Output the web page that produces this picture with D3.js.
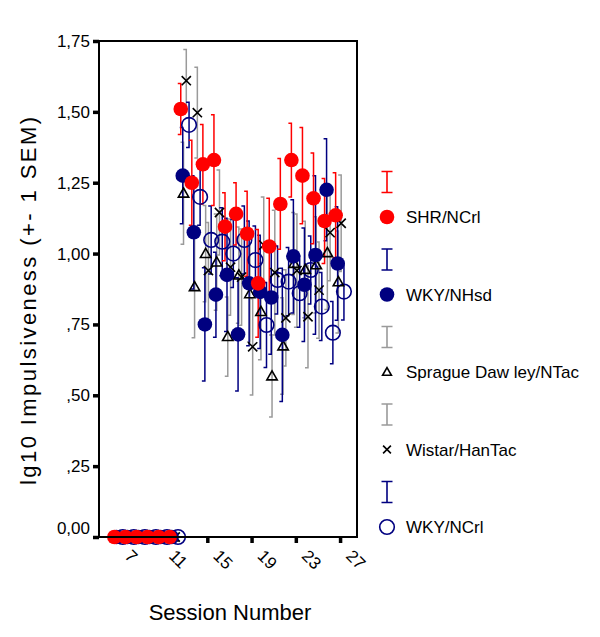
<!DOCTYPE html>
<html>
<head>
<meta charset="utf-8">
<script src="https://cdn.jsdelivr.net/npm/d3@7/dist/d3.min.js"></script>
<style>
  body { margin: 0; background: #ffffff; }
  text { font-family: "Liberation Sans", Arial, sans-serif; }
</style>
</head>
<body>
<svg id="chart" width="600" height="637"></svg>
<script>
// ---------------- DATA ----------------
const sessions = [6,7,8,9,10,11,12,13,14,15,16,17,18,19,20,21,22,23,24,25,26];
const seriesNames = ["SHR/NCrl", "WKY/NHsd", "Sprague Daw ley/NTac", "Wistar/HanTac", "WKY/NCrl"];

const shrMean = [0,0,0,0,0,0, 1.51,1.25,1.315,1.33,1.095,1.14,1.07,0.895,1.025,1.175,1.33,1.275,1.195,1.115,1.135];
const shrSem  = [0,0,0,0,0,0, 0.09,0.15,0.14,0.16,0.12,0.11,0.15,0.19,0.17,0.16,0.13,0.17,0.16,0.15,0.15];

const wkyHsdMean = [0,0,0,0,0,0, 1.275,1.075,0.75,0.855,0.925,0.715,0.895,0.865,0.845,0.713,0.99,0.89,0.995,1.225,0.965];
const wkyHsdSem  = [0,0,0,0,0,0, 0.17,0.2,0.2,0.15,0.2,0.2,0.22,0.2,0.2,0.235,0.2,0.2,0.28,0.18,0.2];

const sdMean = [0,0,0,0,0,0, 1.213,0.883,1.0,0.97,0.707,0.924,0.858,0.795,0.568,0.674,0.965,0.944,0.96,1.003,0.9];
const sdSem  = [0,0,0,0,0,0, 0.18,0.18,0.17,0.17,0.14,0.17,0.17,0.17,0.145,0.17,0.18,0.17,0.17,0.2,0.18];

const wistarMean = [0,0,0,0,0,0, 1.61,1.497,0.94,1.145,0.952,0.917,0.671,1.03,0.933,0.773,0.94,0.777,0.871,1.074,1.107];
const wistarSem  = [0,0,0,0,0,0, 0.11,0.16,0.17,0.15,0.17,0.17,0.17,0.17,0.22,0.17,0.2,0.18,0.17,0.17,0.17];

const wkyCrlMean = [0,0,0,0,0,0, 1.454,1.2,1.048,1.042,1.0,1.048,0.977,0.748,0.907,0.901,0.86,0.942,0.813,0.721,0.866];
const wkyCrlSem  = [0,0,0,0,0,0, 0.08,0.1,0.12,0.12,0.12,0.12,0.12,0.15,0.12,0.12,0.12,0.12,0.12,0.11,0.1];

const yTicks = [0, 0.25, 0.5, 0.75, 1.0, 1.25, 1.5, 1.75];
const yTickLabels = ["0,00", ",25", ",50", ",75", "1,00", "1,25", "1,50", "1,75"];
const xTicks = [7, 11, 15, 19, 23, 27];
const xTitle = "Session Number";
const yTitle = "lg10 Impulsiveness (+- 1 SEM)";

// ---------------- STYLE ----------------
const styles = [
  { color: "#ff0000", err: "#ff0000", shape: "dot",  dodge: 0.6 },
  { color: "#000080", err: "#000080", shape: "dot",  dodge: 0.78 },
  { color: "#000000", err: "#9a9a9a", shape: "tri",  dodge: 0.85 },
  { color: "#000000", err: "#9a9a9a", shape: "x",    dodge: 1.1 },
  { color: "#000080", err: "#000080", shape: "ring", dodge: 1.35 }
];
const means = [shrMean, wkyHsdMean, sdMean, wistarMean, wkyCrlMean];
const sems  = [shrSem, wkyHsdSem, sdSem, wistarSem, wkyCrlSem];

const series = seriesNames.map((name, k) => ({
  name, style: styles[k],
  points: sessions.map((s, i) => ({ s, m: means[k][i], e: sems[k][i] }))
}));

// ---------------- SCALES ----------------
const svg = d3.select("#chart");
const x = d3.scaleLinear().domain([5.21, 28.53]).range([99, 357]);
const y = d3.scaleLinear().domain([0, 1.75]).range([537, 41]);

// ---------------- X AXIS (under markers) ----------------
const xAxis = svg.append("g").attr("transform", "translate(0,537)")
  .call(d3.axisBottom(x).tickValues(xTicks).tickFormat(d => String(d)).tickSize(6));
xAxis.select(".domain").remove();
xAxis.selectAll(".tick line").attr("stroke-width", 3.5);
xAxis.selectAll(".tick text").attr("font-size", 17).attr("fill", "#000")
  .attr("font-family", "Liberation Sans, Arial, sans-serif")
  .attr("x", 0).attr("y", 0).attr("dy", 0)
  .attr("text-anchor", "start")
  .attr("transform", "translate(4.5,20) rotate(45)");

// ---------------- ERROR BARS ----------------
const barOrder = [2, 3, 4, 1, 0];
const bars = svg.append("g").attr("fill", "none").attr("stroke-width", 1.5);
barOrder.forEach(k => {
  const sr = series[k];
  const g = bars.append("g").attr("stroke", sr.style.err);
  sr.points.filter(p => p.e > 0).forEach(p => {
    const cx = x(p.s + sr.style.dodge);
    const y1 = y(p.m + p.e), y2 = y(p.m - p.e);
    g.append("path").attr("d",
      `M${cx-3},${y1}H${cx}V${y2}H${cx-3}`);
  });
});

// ---------------- MARKERS ----------------
function drawMarker(g, st, cx, cy, scale) {
  scale = scale || 1;
  if (st.shape === "dot") {
    g.append("circle").attr("cx", cx).attr("cy", cy).attr("r", 7.3 * scale).attr("fill", st.color);
  } else if (st.shape === "ring") {
    g.append("circle").attr("cx", cx).attr("cy", cy).attr("r", 7.3 * scale)
      .attr("fill", "none").attr("stroke", st.color).attr("stroke-width", 1.6);
  } else if (st.shape === "tri") {
    const h = 5.2 * scale;
    g.append("path").attr("d", `M${cx},${cy-h}L${cx+h},${cy+h*0.75}L${cx-h},${cy+h*0.75}Z`)
      .attr("fill", "none").attr("stroke", st.color).attr("stroke-width", 1.6);
  } else if (st.shape === "x") {
    const h = 4.6 * scale;
    g.append("path").attr("d", `M${cx-h},${cy-h}L${cx+h},${cy+h}M${cx-h},${cy+h}L${cx+h},${cy-h}`)
      .attr("fill", "none").attr("stroke", st.color).attr("stroke-width", 1.6);
  }
}
const markerOrder = [4, 2, 3, 1, 0];
const marks = svg.append("g");
markerOrder.forEach(k => {
  const sr = series[k];
  const g = marks.append("g");
  sr.points.forEach(p => drawMarker(g, sr.style, x(p.s + sr.style.dodge), y(p.m)));
});

// ---------------- FRAME & Y AXIS ----------------
svg.append("rect").attr("x", 99).attr("y", 41).attr("width", 258).attr("height", 496)
  .attr("fill", "none").attr("stroke", "#000").attr("stroke-width", 2);

const yAxis = svg.append("g").attr("transform", "translate(99,0)")
  .call(d3.axisLeft(y).tickValues(yTicks).tickFormat((d, i) => yTickLabels[i]).tickSize(6).tickPadding(3));
yAxis.select(".domain").remove();
yAxis.selectAll(".tick line").attr("stroke-width", 3.5);
yAxis.selectAll(".tick text").attr("font-size", 17).attr("fill", "#000")
  .attr("font-family", "Liberation Sans, Arial, sans-serif")
  .attr("dy", (d, i) => i === 0 ? "-0.2em" : "0.32em");

// titles
svg.append("text").attr("x", 230).attr("y", 620).attr("text-anchor", "middle")
  .attr("font-size", 22).text(xTitle);
svg.append("text").attr("transform", "translate(36,301) rotate(-90)").attr("text-anchor", "middle")
  .attr("font-size", 22).attr("textLength", 368).attr("lengthAdjust", "spacing").text(yTitle);

// ---------------- LEGEND ----------------
const legend = svg.append("g");
series.forEach((sr, k) => {
  const cy = 217 + k * 77.5;
  const by = cy - 35;
  legend.append("path")
    .attr("d", `M381.5,${by-10.5}H392.5M387,${by-10.5}V${by+10.5}M381.5,${by+10.5}H392.5`)
    .attr("stroke", sr.style.err).attr("stroke-width", 1.6).attr("fill", "none");
  drawMarker(legend, sr.style, 387, cy, sr.style.shape === "tri" || sr.style.shape === "x" ? 0.85 : 1);
  legend.append("text").attr("x", 406).attr("y", cy + 6).attr("font-size", 17).text(sr.name);
});
</script>
</body>
</html>
